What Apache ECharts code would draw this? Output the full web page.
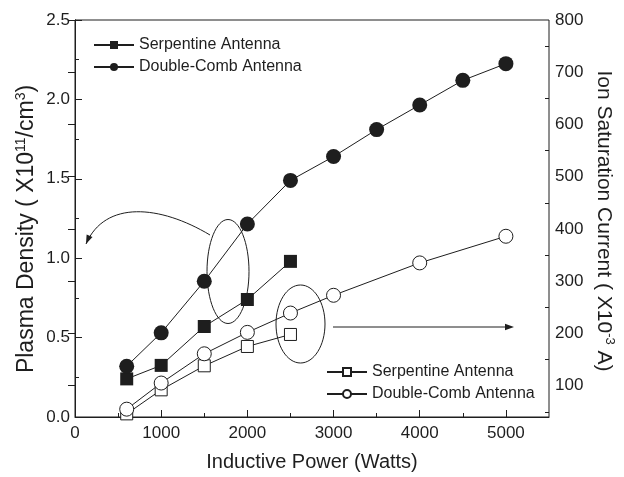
<!DOCTYPE html>
<html>
<head>
<meta charset="utf-8">
<script src="https://cdn.jsdelivr.net/npm/echarts@6/dist/echarts.min.js"></script>
<style>
  html, body { margin: 0; padding: 0; background: #fff; }
  #main { width: 624px; height: 477px; }
</style>
</head>
<body>
<div id="main"></div>
<script>
  // inductive power (W)
  const powerSerp = [600, 1000, 1500, 2000, 2500]
  const powerCombDensity = [600, 1000, 1500, 2000, 2500, 3000, 3500, 4000, 4500, 5000]
  const powerCombCurrent = [600, 1000, 1500, 2000, 2500, 3000, 4000, 5000]

  // plasma density (x10^11 /cm^3) - left axis, filled symbols
  const serpDensity = [0.24, 0.325, 0.57, 0.74, 0.98]
  const combDensity = [0.32, 0.53, 0.855, 1.215, 1.49, 1.64, 1.81, 1.965, 2.12, 2.225]

  // ion saturation current (x10^-3 A) - right axis, open symbols
  const serpCurrent = [46, 92, 138, 175, 198]
  const combCurrent = [55, 105, 161, 202, 239, 273, 335, 386]

  // tick labels
  const xTicks = [0, 1000, 2000, 3000, 4000, 5000]
  const xMinorTicks = [500, 1500, 2500, 3500, 4500]
  const rightTicks = [100, 200, 300, 400, 500, 600, 700, 800]
  const rightMinorTicks = [50, 150, 250, 350, 450, 550, 650, 750]

  const FONT = 'Liberation Sans, Arial, Helvetica, sans-serif'
  const INK = '#1e1e1e'

  const zip = (xs, ys) => xs.map((x, i) => [x, ys[i]])

  const chart = echarts.init(document.getElementById('main'))

  function lineSeries(name, xs, ys, yIdx, symbol, size, filled) {
    return {
      name: name,
      type: 'line',
      xAxisIndex: 0,
      yAxisIndex: yIdx,
      data: zip(xs, ys),
      symbol: symbol,
      symbolSize: size,
      showAllSymbol: true,
      animation: false,
      lineStyle: { color: INK, width: 1 },
      itemStyle: filled
        ? { color: INK, borderColor: INK, borderWidth: 0 }
        : { color: '#fff', borderColor: INK, borderWidth: 1 },
      emphasis: { disabled: true },
      z: filled ? 3 : 4
    }
  }

  // arrowhead triangle from a direction
  function arrowHead(tip, from, len, half) {
    const dx = tip[0] - from[0], dy = tip[1] - from[1]
    const d = Math.sqrt(dx * dx + dy * dy)
    const ux = dx / d, uy = dy / d
    const bx = tip[0] - ux * len, by = tip[1] - uy * len
    return {
      type: 'polygon',
      shape: { points: [tip, [bx - uy * half, by + ux * half], [bx + uy * half, by - ux * half]] },
      style: { fill: INK }
    }
  }

  const legendCommon = {
    orient: 'vertical',
    padding: 0,
    itemWidth: 40,
    itemHeight: 10,
    itemGap: 6,
    selectedMode: false,
    textStyle: { fontFamily: FONT, fontSize: 16, color: INK },
    formatter: name => name.replace(/ \(.\)$/, '')
  }

  const option = {
    animation: false,
    backgroundColor: '#fff',
    grid: {
      left: 75, right: 75, top: 20, bottom: 58,
      show: true, borderColor: INK, borderWidth: 1
    },
    legend: [
      Object.assign({}, legendCommon, {
        left: 93, top: 37,
        data: ['Serpentine Antenna (n)', 'Double-Comb Antenna (n)']
      }),
      Object.assign({}, legendCommon, {
        left: 326, top: 364,
        data: ['Serpentine Antenna (I)', 'Double-Comb Antenna (I)']
      })
    ],
    xAxis: [
      {
        type: 'value', position: 'bottom', min: 0, max: 5500,
        name: 'Inductive Power (Watts)',
        nameLocation: 'middle', nameGap: 35,
        nameTextStyle: { fontFamily: FONT, fontSize: 20, color: INK },
        axisLine: { show: true, lineStyle: { color: INK, width: 1 } },
        axisTick: { show: true, inside: true, length: 7, customValues: xTicks, lineStyle: { color: INK } },
        axisLabel: { customValues: xTicks, fontFamily: FONT, fontSize: 17, color: INK, margin: 8, formatter: v => String(v) },
        splitLine: { show: false }
      },
      {
        type: 'value', position: 'bottom', min: 0, max: 5500,
        axisLine: { show: false },
        axisTick: { show: true, inside: true, length: 4, customValues: xMinorTicks, lineStyle: { color: INK } },
        axisLabel: { show: false },
        splitLine: { show: false }
      }
    ],
    yAxis: [
      {
        type: 'value', position: 'left', min: 0, max: 2.5, interval: 0.5,
        axisLine: { show: true, lineStyle: { color: INK, width: 1 } },
        axisTick: { show: true, inside: true, length: 7, lineStyle: { color: INK } },
        minorTick: { show: true, splitNumber: 2, length: 4, lineStyle: { color: INK } },
        axisLabel: { fontFamily: FONT, fontSize: 17, color: INK, margin: 5, formatter: v => v.toFixed(1) },
        splitLine: { show: false }
      },
      {
        type: 'value', position: 'right', min: 40, max: 800,
        axisLine: { show: true, lineStyle: { color: INK, width: 1 } },
        axisTick: { show: true, inside: true, length: 7, customValues: rightTicks, lineStyle: { color: INK } },
        axisLabel: { customValues: rightTicks, fontFamily: FONT, fontSize: 17, color: INK, margin: 6, formatter: v => String(v) },
        splitLine: { show: false }
      },
      {
        type: 'value', position: 'right', min: 40, max: 800,
        axisLine: { show: false },
        axisTick: { show: true, inside: true, length: 4, customValues: rightMinorTicks, lineStyle: { color: INK } },
        axisLabel: { show: false },
        splitLine: { show: false }
      }
    ],
    series: [
      lineSeries('Serpentine Antenna (n)', powerSerp, serpDensity, 0, 'rect', 13, true),
      lineSeries('Double-Comb Antenna (n)', powerCombDensity, combDensity, 0, 'circle', 15, true),
      lineSeries('Serpentine Antenna (I)', powerSerp, serpCurrent, 1, 'rect', 12, false),
      lineSeries('Double-Comb Antenna (I)', powerCombCurrent, combCurrent, 1, 'circle', 14, false)
    ]
  }
  chart.setOption(option)

  // annotations: ellipses + arrows pointing to the matching axis, and the axis titles
  const curve = { x1: 210, y1: 235, cpx1: 160, cpy1: 205, cpx2: 105, cpy2: 200, x2: 86, y2: 244 }
  chart.setOption({
    graphic: [
      { type: 'ellipse', shape: { cx: 228, cy: 271.5, rx: 21, ry: 52 }, style: { fill: 'none', stroke: INK, lineWidth: 1 }, z: 10 },
      { type: 'bezierCurve', shape: curve, style: { fill: 'none', stroke: INK, lineWidth: 1 }, z: 10 },
      Object.assign(arrowHead([curve.x2, curve.y2], [curve.cpx2, curve.cpy2], 9, 3.2), { z: 10 }),
      { type: 'ellipse', shape: { cx: 300.5, cy: 324, rx: 24.5, ry: 39 }, style: { fill: 'none', stroke: INK, lineWidth: 1 }, z: 10 },
      { type: 'line', shape: { x1: 333, y1: 327, x2: 506, y2: 327 }, style: { stroke: INK, lineWidth: 1 }, z: 10 },
      Object.assign(arrowHead([514, 327], [333, 327], 9, 3.2), { z: 10 }),
      {
        type: 'text', x: 27, y: 229, rotation: Math.PI / 2, z: 10,
        style: {
          text: '{a|Plasma Density ( X10}{s|11}{a|/cm}{s|3}{a|)}',
          align: 'center', verticalAlign: 'middle', fill: INK,
          rich: {
            a: { fontFamily: FONT, fontSize: 23, fill: INK, lineHeight: 26 },
            s: { fontFamily: FONT, fontSize: 14, fill: INK, verticalAlign: 'top', lineHeight: 14 }
          }
        }
      },
      {
        type: 'text', x: 604, y: 221, rotation: -Math.PI / 2, z: 10,
        style: {
          text: '{a|Ion Saturation Current ( X10}{s|-3}{a| A)}',
          align: 'center', verticalAlign: 'middle', fill: INK,
          rich: {
            a: { fontFamily: FONT, fontSize: 21, fill: INK, lineHeight: 24 },
            s: { fontFamily: FONT, fontSize: 13, fill: INK, verticalAlign: 'top', lineHeight: 13 }
          }
        }
      }
    ]
  })
</script>
</body>
</html>
